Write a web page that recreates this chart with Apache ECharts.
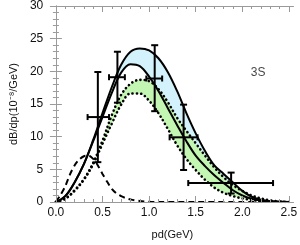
<!DOCTYPE html>
<html><head><meta charset="utf-8">
<script src="https://cdn.jsdelivr.net/npm/echarts@6/dist/echarts.min.js"></script>
<style>html,body{margin:0;padding:0;background:#fff}#c{width:300px;height:245px}</style>
</head><body><div id="c"></div>
<script>
// curve grid (pd in GeV)
var pd = [0,0.1,0.2,0.3,0.4,0.5,0.6,0.7,0.8,0.9,1.0,1.1,1.2,1.3,1.4,1.5,1.6,1.7,1.8,1.9,2.0,2.1,2.2,2.3,2.4,2.5];
var solidUpper = [0,0.9,3.0,5.8,9.5,13.6,17.6,21.0,23.0,23.5,23.2,22.0,19.9,17.0,13.6,10.5,7.8,5.6,4.3,3.0,1.7,0.8,0.35,0.12,0.03,0];
var solidLower = [0,0.9,3.0,5.8,9.3,13.0,16.7,19.8,21.1,20.8,19.2,17.0,14.4,11.8,9.3,7.1,5.5,4.1,2.9,1.8,1.0,0.5,0.22,0.08,0.02,0];
var dotUpper   = [0,0.5,1.8,3.5,6.0,9.4,13.3,16.4,18.1,18.7,18.5,17.3,15.3,12.9,10.9,9.0,7.1,5.3,3.8,2.6,1.7,1.0,0.55,0.25,0.08,0];
var dotLower   = [0,0.5,1.7,3.4,5.8,8.9,12.0,14.9,16.6,16.6,15.5,13.6,11.2,8.7,6.6,4.9,3.4,2.2,1.4,0.9,0.55,0.3,0.15,0.07,0.02,0];
var dashX = [0,0.05,0.1,0.15,0.2,0.25,0.3,0.35,0.4,0.45,0.5,0.55,0.6,0.65,0.7,0.75,0.8,0.9,1.0,1.1,1.5,2.0,2.5];
var dashY = [0,1.1,2.4,4.2,5.6,6.5,7.0,7.1,6.6,5.6,4.3,3.1,2.0,1.3,0.9,0.6,0.4,0.15,0.05,0,0,0,0];
// measurements: x, y, xlow, xhigh, ylow, yhigh
var dataX  = [0.45,0.66,1.06,1.37,1.88];
var dataY  = [13.0,19.1,18.9,9.9,2.9];
var dataXlo= [0.34,0.57,0.97,1.22,1.42];
var dataXhi= [0.57,0.74,1.14,1.52,2.33];
var dataYlo= [6.1,15.2,13.9,4.9,1.3];
var dataYhi= [19.9,23.0,24.0,14.9,4.5];
var xMajor = [0,0.5,1.0,1.5,2.0,2.5];
var xMinor = [0,0.1,0.2,0.3,0.4,0.6,0.7,0.8,0.9,1.1,1.2,1.3,1.4,1.6,1.7,1.8,1.9,2.1,2.2,2.3,2.4,2.5];
var stateLabel = '3S';
var stateLabelPos = [2.17, 19.8];

function pairs(xs, ys){ return xs.map(function(x,i){return [x, ys[i]];}); }

var frameColor = '#9a9a9a';
var labelFont = {color:'#111', fontFamily:'Liberation Sans, Arial, sans-serif', fontSize:12};

var chart = echarts.init(document.getElementById('c'), null, {renderer:'canvas'});
var xBase = {type:'value', min:-0.05, max:2.55, splitLine:{show:false}, z:5};
function band(ys, color, z){
  return {type:'line', data:pairs(pd, ys), smooth:0.35, symbol:'none', silent:true,
    lineStyle:{opacity:0}, areaStyle:{color:color, opacity:1, origin:'start'}, z:z};
}
var dotStyle = {color:'#000', width:2.6, type:[0.1,4.2], cap:'round'};
chart.setOption({
  animation:false,
  grid:{left:39, right:6, top:6, bottom:42},
  xAxis:[
    Object.assign({}, xBase, {position:'bottom',
      axisLine:{show:true, lineStyle:{color:frameColor, width:1}},
      axisTick:{show:true, inside:true, length:6, customValues:xMajor, lineStyle:{color:frameColor}},
      axisLabel:Object.assign({show:true, margin:5, customValues:xMajor, formatter:function(v){return v.toFixed(1);}}, labelFont),
      name:'pd(GeV)', nameLocation:'middle', nameGap:27,
      nameTextStyle:{color:'#111', fontFamily:'Liberation Sans, Arial, sans-serif', fontSize:11}}),
    Object.assign({}, xBase, {position:'bottom', axisLine:{show:false},
      axisTick:{show:true, inside:true, length:3, customValues:xMinor, lineStyle:{color:frameColor}},
      axisLabel:{show:false}}),
    Object.assign({}, xBase, {position:'top',
      axisLine:{show:true, lineStyle:{color:frameColor, width:1}},
      axisTick:{show:true, inside:true, length:6, customValues:xMajor, lineStyle:{color:frameColor}},
      axisLabel:{show:false}}),
    Object.assign({}, xBase, {position:'top', axisLine:{show:false},
      axisTick:{show:true, inside:true, length:3, customValues:xMinor, lineStyle:{color:frameColor}},
      axisLabel:{show:false}})
  ],
  yAxis:[
    {type:'value', min:0, max:30, interval:5, position:'left', z:5,
      axisLine:{show:true, lineStyle:{color:frameColor}},
      axisTick:{show:true, inside:true, length:6, lineStyle:{color:frameColor}},
      minorTick:{show:true, splitNumber:5, length:3, lineStyle:{color:frameColor}},
      splitLine:{show:false},
      axisLabel:Object.assign({margin:8}, labelFont),
      name:'dB/dp(10\u207B\u2078/GeV)', nameLocation:'middle', nameGap:25,
      nameTextStyle:{color:'#111', fontFamily:'Liberation Sans, Arial, sans-serif', fontSize:11}},
    {type:'value', min:0, max:30, interval:5, position:'right', z:5,
      axisLine:{show:true, lineStyle:{color:frameColor}},
      axisTick:{show:true, inside:true, length:6, lineStyle:{color:frameColor}},
      minorTick:{show:true, splitNumber:5, length:3, lineStyle:{color:frameColor}},
      splitLine:{show:false}, axisLabel:{show:false}}
  ],
  series:[
    band(solidUpper, '#d3f2fb', 1),
    band(solidLower, '#ffffff', 1),
    band(dotUpper, '#c3f5b3', 2),
    band(dotLower, '#ffffff', 2),
    {type:'line', data:pairs(dashX, dashY), smooth:0.3, symbol:'none', lineStyle:{color:'#000', width:2, type:[6,4]}, z:3},
    {type:'line', data:pairs(pd, dotUpper), smooth:0.35, symbol:'none', lineStyle:dotStyle, z:3},
    {type:'line', data:pairs(pd, dotLower), smooth:0.35, symbol:'none', lineStyle:dotStyle, z:3},
    {type:'line', data:pairs(pd, solidUpper), smooth:0.35, symbol:'none', lineStyle:{color:'#000', width:2}, z:4},
    {type:'line', data:pairs(pd, solidLower), smooth:0.35, symbol:'none', lineStyle:{color:'#000', width:2}, z:4},
    {type:'custom', z:6,
      data:dataX.map(function(x,i){return [x, dataY[i], dataXlo[i], dataXhi[i], dataYlo[i], dataYhi[i]];}),
      renderItem:function(params, api){
        var c = api.coord([api.value(0), api.value(1)]);
        var l = api.coord([api.value(2), api.value(1)]);
        var r = api.coord([api.value(3), api.value(1)]);
        var b = api.coord([api.value(0), api.value(4)]);
        var t = api.coord([api.value(0), api.value(5)]);
        var st = {stroke:'#000', lineWidth:2};
        var cw = 3.5, ch = 3;
        return {type:'group', children:[
          {type:'line', shape:{x1:l[0], y1:c[1], x2:r[0], y2:c[1]}, style:st},
          {type:'line', shape:{x1:c[0], y1:b[1], x2:c[0], y2:t[1]}, style:st},
          {type:'line', shape:{x1:l[0], y1:c[1]-ch, x2:l[0], y2:c[1]+ch}, style:st},
          {type:'line', shape:{x1:r[0], y1:c[1]-ch, x2:r[0], y2:c[1]+ch}, style:st},
          {type:'line', shape:{x1:c[0]-cw, y1:b[1], x2:c[0]+cw, y2:b[1]}, style:st},
          {type:'line', shape:{x1:c[0]-cw, y1:t[1], x2:c[0]+cw, y2:t[1]}, style:st}
        ]};
      }},
    {type:'scatter', data:[stateLabelPos], symbolSize:0, silent:true,
      label:{show:true, position:'inside', formatter:stateLabel, color:'#111', fontFamily:'Liberation Sans, Arial, sans-serif', fontSize:12}}
  ]
});
</script></body></html>
